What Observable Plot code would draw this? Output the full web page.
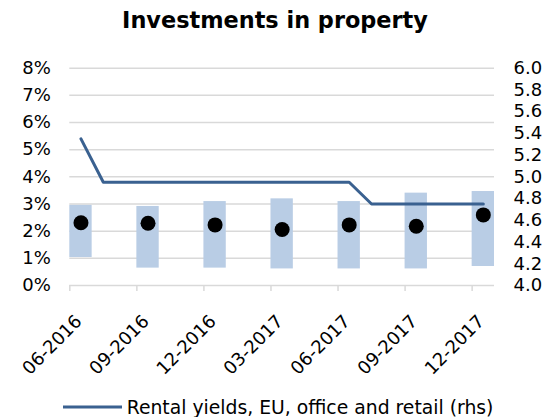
<!DOCTYPE html>
<html><head><meta charset="utf-8">
<script src="https://cdn.jsdelivr.net/npm/d3@7"></script>
<script src="https://cdn.jsdelivr.net/npm/@observablehq/plot@0.6"></script>
<style>
body{margin:0;background:#fff;font-family:"DejaVu Sans",Verdana,sans-serif;color:#000;}
#wrap{width:550px;height:417px;position:relative;overflow:hidden;background:#fff}
#title{position:absolute;left:0;top:0;width:550px;text-align:center;font-weight:bold;font-size:22.4px;line-height:40px;}
#chart{position:absolute;left:0;top:40px}
#legend{position:absolute;left:62.7px;top:394px;height:26px;display:flex;align-items:center;font-size:18.8px;white-space:nowrap}
#legend svg{margin-right:5px}
</style></head>
<body>
<div id="wrap">
<div id="title">Investments in property</div>
<div id="chart"></div>
<div id="legend"><svg width="59" height="6"><line x1="0" x2="59" y1="3" y2="3" stroke="#3a6190" stroke-width="3"/></svg><span>Rental yields, EU, office and retail (rhs)</span></div>
</div>
<script>
// Monthly line series (rhs)
const months = ["06-2016","07-2016","08-2016","09-2016","10-2016","11-2016","12-2016",
  "01-2017","02-2017","03-2017","04-2017","05-2017","06-2017",
  "07-2017","08-2017","09-2017","10-2017","11-2017","12-2017"];
const rentalYields = [5.35,4.95,4.95,4.95,4.95,4.95,4.95,4.95,4.95,4.95,4.95,4.95,4.95,
  4.75,4.75,4.75,4.75,4.75,4.75];

// Quarterly ranges and points (lhs, %)
const quarters = ["06-2016","09-2016","12-2016","03-2017","06-2017","09-2017","12-2017"];
const rangeLow  = [1.03,0.64,0.64,0.61,0.61,0.61,0.70];
const rangeHigh = [2.95,2.91,3.09,3.19,3.09,3.40,3.46];
const pointValue = [2.31,2.29,2.23,2.06,2.23,2.18,2.60];

const leftTicks = [0,1,2,3,4,5,6,7,8];
const rightTicks = [4.0,4.2,4.4,4.6,4.8,5.0,5.2,5.4,5.6,5.8,6.0];

const rhsMin = 4.0, rhsMax = 6.0, lhsMax = 8;
const toLhs = v => (v - rhsMin) / (rhsMax - rhsMin) * lhsMax;
const toRhs = p => rhsMin + p / lhsMax * (rhsMax - rhsMin);
const idx = m => months.indexOf(m);

const lineData = months.map((m, i) => ({m, i, v: rentalYields[i]}));
const barData = quarters.map((q, i) => ({q, i: idx(q), lo: rangeLow[i], hi: rangeHigh[i], v: pointValue[i]}));
const xTicks = barData.map(d => d.i - 0.5);

const blue = "#3a6190";
const grid = "#d9d9d9";

const chart = Plot.plot({
  width: 550,
  height: 345,
  marginTop: 27.7,
  marginBottom: 100,
  marginLeft: 69.3,
  marginRight: 56,
  style: {fontFamily: "'DejaVu Sans', Verdana, sans-serif", fontSize: "18px", color: "#000", background: "#fff"},
  x: {domain: [-0.5, months.length - 0.5], axis: null},
  y: {domain: [0, lhsMax], axis: null},
  marks: [
    Plot.ruleY(leftTicks, {stroke: grid, strokeWidth: 1.5}),
    Plot.axisX(xTicks, {anchor: "bottom", tickSize: 6, stroke: grid, strokeWidth: 1.5, tickFormat: () => "", label: null}),
    Plot.rectY(barData, {x1: d => d.i - 0.5, x2: d => d.i + 0.5, y1: "lo", y2: "hi", fill: "#b9cde5"}),
    Plot.line(lineData, {x: "i", y: d => toLhs(d.v), stroke: blue, strokeWidth: 3}),
    Plot.dot(barData, {x: "i", y: "v", r: 7.5, fill: "#000"}),
    Plot.axisY(leftTicks, {anchor: "left", tickSize: 0, tickPadding: 19, tickFormat: d => d + "%", label: null, fontSize: 18}),
    Plot.axisY(rightTicks.map(toLhs), {anchor: "right", tickSize: 0, tickPadding: 19, tickFormat: d => toRhs(d).toFixed(1), label: null, fontSize: 18}),
    Plot.text(barData, {x: "i", frameAnchor: "bottom", text: "q", dx: 2, dy: 37, rotate: -45, textAnchor: "end", fontSize: 18, fill: "#000"})
  ]
});
document.getElementById("chart").appendChild(chart);
</script>
</body></html>
